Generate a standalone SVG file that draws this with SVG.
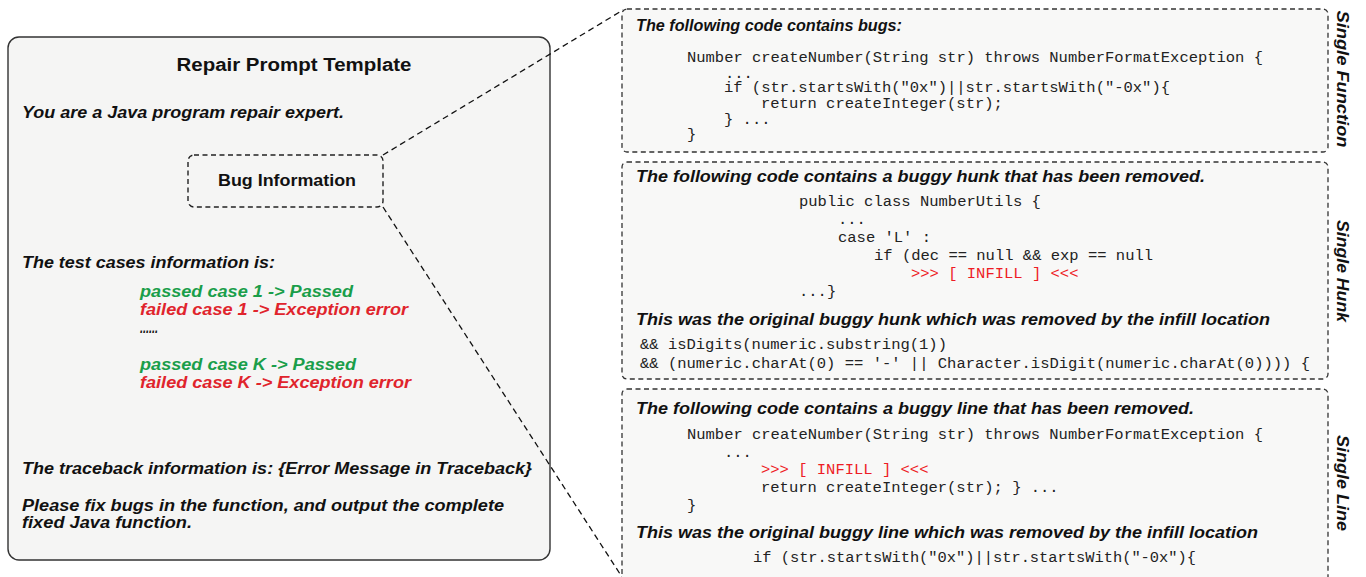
<svg xmlns="http://www.w3.org/2000/svg" width="1366" height="577" viewBox="0 0 1366 577">
<defs>
<style>
.bi{font-family:"Liberation Sans",Arial,sans-serif;font-weight:bold;font-style:italic;font-size:16px;fill:#111}
.b{font-family:"Liberation Sans",Arial,sans-serif;font-weight:bold;fill:#111}
.mono{font-family:"Liberation Mono","DejaVu Sans Mono",monospace;font-size:15.5px;fill:#222}
.red{fill:#ee1c25}
.green{fill:#1a9e4a}
.redi{fill:#e0242c}
.dash{fill:#f8f8f7;stroke:#333;stroke-width:1.3;stroke-dasharray:5,3.5}
.conn{fill:none;stroke:#111;stroke-width:1.3;stroke-dasharray:6,4}
.side{font-family:"Liberation Sans",Arial,sans-serif;font-weight:bold;font-style:italic;font-size:17px;fill:#111}
</style>
</defs>
<rect width="1366" height="577" fill="#ffffff"/>

<g id="template">
<rect x="8" y="37" width="542" height="523" rx="11" fill="#f5f5f4" stroke="#333" stroke-width="1.4"/>
<text class="b" x="294" y="71" font-size="18" text-anchor="middle" textLength="235" lengthAdjust="spacingAndGlyphs">Repair Prompt Template</text>
<text class="bi" x="22" y="118" textLength="322" lengthAdjust="spacingAndGlyphs">You are a Java program repair expert.</text>
<text class="bi" x="22" y="268" textLength="253" lengthAdjust="spacingAndGlyphs">The test cases information is:</text>
<text class="bi green" x="140" y="297" textLength="213" lengthAdjust="spacingAndGlyphs">passed case 1 -&gt; Passed</text>
<text class="bi redi" x="140" y="315" textLength="268" lengthAdjust="spacingAndGlyphs">failed case 1 -&gt; Exception error</text>
<text class="bi" x="140" y="333" textLength="18" lengthAdjust="spacingAndGlyphs">......</text>
<text class="bi green" x="140" y="370" textLength="216" lengthAdjust="spacingAndGlyphs">passed case K -&gt; Passed</text>
<text class="bi redi" x="140" y="388" textLength="271" lengthAdjust="spacingAndGlyphs">failed case K -&gt; Exception error</text>
<text class="bi" x="22" y="474" textLength="510" lengthAdjust="spacingAndGlyphs">The traceback information is: {Error Message in Traceback}</text>
<text class="bi" x="22" y="511" textLength="482" lengthAdjust="spacingAndGlyphs">Please fix bugs in the function, and output the complete</text>
<text class="bi" x="22" y="528" textLength="170" lengthAdjust="spacingAndGlyphs">fixed Java function.</text>
</g>

<g id="bug-info">
<rect x="188" y="155" width="195" height="52" rx="6" fill="#f5f5f4" stroke="#222" stroke-width="1.4" stroke-dasharray="5,3.5"/>
<text class="b" x="287" y="186" font-size="16" text-anchor="middle" textLength="138" lengthAdjust="spacingAndGlyphs">Bug Information</text>
</g>

<g id="connectors">
<line class="conn" x1="383" y1="155" x2="623" y2="10"/>
<line class="conn" x1="383" y1="207" x2="622" y2="577"/>
</g>

<g id="single-function">
<rect class="dash" x="622" y="9" width="706" height="143" rx="5"/>
<text class="bi" x="636" y="31" textLength="266" lengthAdjust="spacingAndGlyphs">The following code contains bugs:</text>
<text class="mono" x="687" y="62" textLength="576" lengthAdjust="spacingAndGlyphs">Number createNumber(String str) throws NumberFormatException {</text>
<text class="mono" x="725" y="78">...</text>
<text class="mono" x="724" y="92" textLength="446" lengthAdjust="spacingAndGlyphs">if (str.startsWith("0x")||str.startsWith("-0x"){</text>
<text class="mono" x="761" y="108">return createInteger(str);</text>
<text class="mono" x="724" y="124">} ...</text>
<text class="mono" x="687" y="139">}</text>
<text class="side" transform="translate(1337,79) rotate(90)" text-anchor="middle" textLength="137" lengthAdjust="spacingAndGlyphs">Single Function</text>
</g>

<g id="single-hunk">
<rect class="dash" x="622" y="162" width="706" height="217" rx="5"/>
<text class="bi" x="636" y="182" textLength="569" lengthAdjust="spacingAndGlyphs">The following code contains a buggy hunk that has been removed.</text>
<text class="mono" x="799" y="206">public class NumberUtils {</text>
<text class="mono" x="838" y="224">...</text>
<text class="mono" x="838" y="242">case 'L' :</text>
<text class="mono" x="874" y="260">if (dec == null &amp;&amp; exp == null</text>
<text class="mono red" x="911" y="278">&gt;&gt;&gt; [ INFILL ] &lt;&lt;&lt;</text>
<text class="mono" x="799" y="296">...}</text>
<text class="bi" x="636" y="325" textLength="634" lengthAdjust="spacingAndGlyphs">This was the original buggy hunk which was removed by the infill location</text>
<text class="mono" x="640" y="349">&amp;&amp; isDigits(numeric.substring(1))</text>
<text class="mono" x="640" y="368" textLength="670" lengthAdjust="spacingAndGlyphs">&amp;&amp; (numeric.charAt(0) == '-' || Character.isDigit(numeric.charAt(0)))) {</text>
<text class="side" transform="translate(1337,271) rotate(90)" text-anchor="middle" textLength="102" lengthAdjust="spacingAndGlyphs">Single Hunk</text>
</g>

<g id="single-line">
<rect class="dash" x="622" y="389" width="706" height="200" rx="5"/>
<text class="bi" x="636" y="414" textLength="558" lengthAdjust="spacingAndGlyphs">The following code contains a buggy line that has been removed.</text>
<text class="mono" x="687" y="439" textLength="576" lengthAdjust="spacingAndGlyphs">Number createNumber(String str) throws NumberFormatException {</text>
<text class="mono" x="724" y="457">...</text>
<text class="mono red" x="761" y="474">&gt;&gt;&gt; [ INFILL ] &lt;&lt;&lt;</text>
<text class="mono" x="761" y="492">return createInteger(str); } ...</text>
<text class="mono" x="687" y="510">}</text>
<text class="bi" x="636" y="538" textLength="622" lengthAdjust="spacingAndGlyphs">This was the original buggy line which was removed by the infill location</text>
<text class="mono" x="753" y="562" textLength="443" lengthAdjust="spacingAndGlyphs">if (str.startsWith("0x")||str.startsWith("-0x"){</text>
<text class="side" transform="translate(1337,483) rotate(90)" text-anchor="middle" textLength="96" lengthAdjust="spacingAndGlyphs">Single Line</text>
</g>
</svg>
